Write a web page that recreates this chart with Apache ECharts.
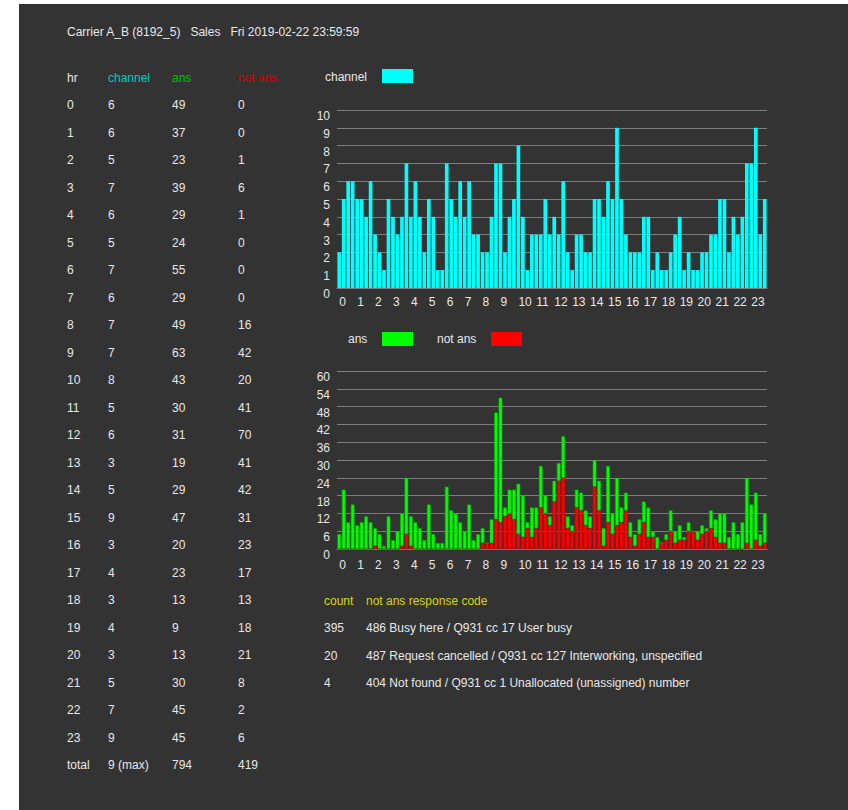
<!DOCTYPE html>
<html>
<head>
<meta charset="utf-8">
<script src="https://cdn.jsdelivr.net/npm/echarts@6/dist/echarts.min.js"></script>
<style>
  html, body { margin: 0; padding: 0; background: #ffffff; }
  #chart { width: 848px; height: 810px; }
</style>
</head>
<body>
<div id="chart"></div>
<script>
// ---------- data ----------
const titleText = 'Carrier A_B (8192_5)   Sales   Fri 2019-02-22 23:59:59';
const hours = [0,1,2,3,4,5,6,7,8,9,10,11,12,13,14,15,16,17,18,19,20,21,22,23];
const channelMax = [6,6,5,7,6,5,7,6,7,7,8,5,6,3,5,9,3,4,3,4,3,5,7,9];
const ansHour    = [49,37,23,39,29,24,55,29,49,63,43,30,31,19,29,47,20,23,13,9,13,30,45,45];
const notAnsHour = [0,0,1,6,1,0,0,0,16,42,20,41,70,41,42,31,23,17,13,18,21,8,2,6];
const quarterMinutes = ['00','15','30','45'];

// per 15 minutes (4 per hour)
const channel15 = [
  2,5,6,6,  5,5,4,6,  3,2,1,5,  4,3,4,7,  4,6,4,2,  5,4,1,1,
  7,5,4,6,  4,6,3,3,  2,2,4,7,  7,2,4,5,  8,4,1,3,  3,3,5,3,
  4,3,6,2,  1,3,3,2,  2,5,5,4,  6,5,9,5,  3,2,2,2,  4,4,1,2,
  1,1,2,3,  4,1,2,1,  1,2,2,3,  3,5,5,2,  4,3,4,7,  7,9,3,5
];
const ans15 = [
  5,20,9,15,  8,9,11,9,  6,5,1,11,  3,6,11,19,  10,9,7,3,  15,5,2,2,
  21,13,12,9,  6,15,3,5,  5,0,8,36,  42,3,8,10,  17,14,2,10,  7,14,6,3,
  7,6,14,4,  2,6,6,5,  4,9,10,6,  19,7,16,5,  6,5,4,5,  7,10,2,4,
  0,2,7,4,  5,1,3,0,  3,3,1,6,  6,10,10,4,  9,5,9,22,  15,16,4,10
];
const notAns15 = [
  0,0,0,0,  0,0,0,0,  1,0,0,0,  0,0,1,5,  1,0,0,0,  0,0,0,0,
  0,0,0,0,  0,0,0,0,  2,2,2,10,  9,11,12,10,  5,4,7,4,  7,14,12,8,
  16,23,24,7,  6,14,13,8,  7,21,13,1,  9,5,8,9,  13,4,1,5,  9,4,4,0,
  2,3,6,2,  3,3,6,6,  3,5,6,7,  4,2,2,0,  0,0,0,2,  0,3,1,2
];

const channelAxisMax = 10, channelAxisStep = 1;
const countAxisMax = 60, countAxisStep = 6;

const responseCounts = [395, 20, 4];
const responseCodes = [
  '486 Busy here / Q931 cc 17 User busy',
  '487 Request cancelled / Q931 cc 127 Interworking, unspecified',
  '404 Not found / Q931 cc 1 Unallocated (unassigned) number'
];

// ---------- styles ----------
const FONT = '"Liberation Sans", Arial, sans-serif';
const font12 = '12px ' + FONT;
const WHITE = '#e8e8e8';
const CYAN = '#00ffff', GREEN = '#00ff00', RED = '#ff0000';
const HDR_CYAN = '#00c8c8', HDR_GREEN = '#00c000', HDR_RED = '#d80000', YELLOW = '#d8d800';
const GRIDLINE = '#7c7c7c';

const slots = [];
hours.forEach(h => quarterMinutes.forEach(m => slots.push(h + ':' + m)));

// ---------- graphic (texts, table, legends) ----------
const g = [];
function txt(x, y, text, color, align) {
  g.push({ type: 'text', x: x, y: y, z: 100,
    style: { text: String(text), fill: color, font: font12, align: align || 'left', verticalAlign: 'middle' } });
}
// white margins outside dark panel
g.push({ type: 'rect', shape: { x: 0, y: 0, width: 19, height: 810 }, style: { fill: '#ffffff' }, z: 99 });
g.push({ type: 'rect', shape: { x: 0, y: 0, width: 848, height: 4 }, style: { fill: '#ffffff' }, z: 99 });

txt(67, 32, titleText, WHITE);

// hourly table
const colX = [67, 108, 172, 238];
const row0 = 77.5, rowStep = 27.5;
txt(colX[0], row0, 'hr', WHITE);
txt(colX[1], row0, 'channel', HDR_CYAN);
txt(colX[2], row0, 'ans', HDR_GREEN);
txt(colX[3], row0, 'not ans', HDR_RED);
hours.forEach((h, i) => {
  const y = row0 + rowStep * (i + 1);
  txt(colX[0], y, h, WHITE);
  txt(colX[1], y, channelMax[i], WHITE);
  txt(colX[2], y, ansHour[i], WHITE);
  txt(colX[3], y, notAnsHour[i], WHITE);
});
const yTot = row0 + rowStep * (hours.length + 1);
txt(colX[0], yTot, 'total', WHITE);
txt(colX[1], yTot, Math.max.apply(null, channelMax) + ' (max)', WHITE);
txt(colX[2], yTot, ansHour.reduce((a, b) => a + b, 0), WHITE);
txt(colX[3], yTot, notAnsHour.reduce((a, b) => a + b, 0), WHITE);

// legends
txt(325, 77, 'channel', WHITE);
g.push({ type: 'rect', z: 100, shape: { x: 382, y: 69, width: 31, height: 14 }, style: { fill: CYAN } });
txt(348, 339, 'ans', WHITE);
g.push({ type: 'rect', z: 100, shape: { x: 382, y: 332, width: 31, height: 14 }, style: { fill: GREEN } });
txt(437, 339, 'not ans', WHITE);
g.push({ type: 'rect', z: 100, shape: { x: 491, y: 332, width: 31, height: 14 }, style: { fill: RED } });

// response codes
const rc0 = 601, rcStep = 27.4;
txt(324, rc0, 'count', YELLOW);
txt(366, rc0, 'not ans response code', YELLOW);
responseCounts.forEach((c, i) => {
  txt(324, rc0 + rcStep * (i + 1), c, WHITE);
  txt(366, rc0 + rcStep * (i + 1), responseCodes[i], WHITE);
});

// ---------- chart ----------
const axisLabelX = (margin) => ({
  interval: 3, color: WHITE, fontSize: 12, fontFamily: FONT, align: 'left', margin: margin,
  formatter: v => v.split(':')[0]
});
const axisLabelY = { color: WHITE, fontSize: 12, fontFamily: FONT, verticalAlign: 'top', margin: 7 };

const option = {
  backgroundColor: '#333333',
  animation: false,
  textStyle: { fontFamily: FONT },
  grid: [
    { left: 337, top: 110, width: 430, height: 178 },
    { left: 337, top: 371, width: 430, height: 178 }
  ],
  xAxis: [
    { type: 'category', gridIndex: 0, data: slots, boundaryGap: true,
      axisLine: { show: true, lineStyle: { color: GRIDLINE } }, axisTick: { show: false },
      axisLabel: axisLabelX(8), splitLine: { show: false } },
    { type: 'category', gridIndex: 1, data: slots, boundaryGap: true,
      axisLine: { show: true, lineStyle: { color: GRIDLINE } }, axisTick: { show: false },
      axisLabel: axisLabelX(10), splitLine: { show: false } }
  ],
  yAxis: [
    { type: 'value', gridIndex: 0, min: 0, max: channelAxisMax, interval: channelAxisStep,
      axisLine: { show: false }, axisTick: { show: false }, axisLabel: axisLabelY,
      splitLine: { show: true, lineStyle: { color: GRIDLINE, width: 1 } } },
    { type: 'value', gridIndex: 1, min: 0, max: countAxisMax, interval: countAxisStep,
      axisLine: { show: false }, axisTick: { show: false }, axisLabel: axisLabelY,
      splitLine: { show: true, lineStyle: { color: GRIDLINE, width: 1 } } }
  ],
  series: [
    { name: 'channel', type: 'bar', xAxisIndex: 0, yAxisIndex: 0, data: channel15,
      barCategoryGap: '18%', itemStyle: { color: CYAN } },
    { name: 'not ans', type: 'bar', xAxisIndex: 1, yAxisIndex: 1, data: notAns15, stack: 'calls',
      barCategoryGap: '18%', itemStyle: { color: RED, borderColor: '#c80000', borderWidth: 0.6 } },
    { name: 'ans', type: 'bar', xAxisIndex: 1, yAxisIndex: 1, data: ans15, stack: 'calls',
      barCategoryGap: '18%', itemStyle: { color: GREEN, borderColor: '#00b400', borderWidth: 0.6 } }
  ],
  graphic: g
};

const chart = echarts.init(document.getElementById('chart'), null, { renderer: 'svg', width: 848, height: 810 });
chart.setOption(option);
</script>
</body>
</html>
